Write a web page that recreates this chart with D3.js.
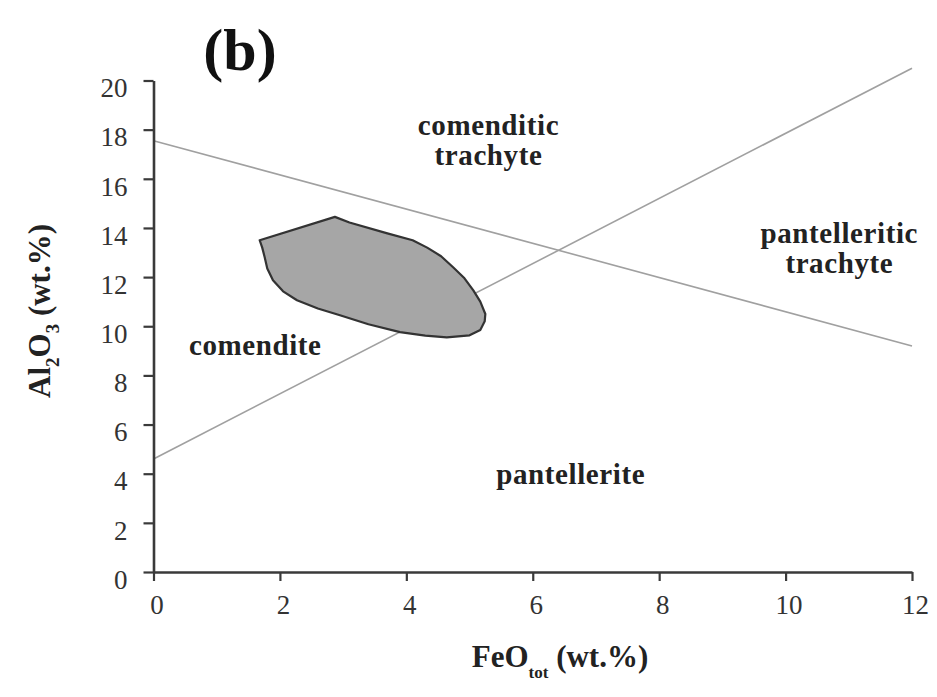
<!DOCTYPE html>
<html>
<head>
<meta charset="utf-8">
<script src="https://cdn.jsdelivr.net/npm/d3@7"></script>
<style>
  body { margin: 0; background: #fff; }
  text { font-family: "Liberation Serif", "Times New Roman", serif; }
</style>
</head>
<body>
<script>
// tick values
const xTicks = [0, 2, 4, 6, 8, 10, 12];
const yTicks = [0, 2, 4, 6, 8, 10, 12, 14, 16, 18, 20];

// classification boundaries (FeO, Al2O3)
const line1 = [[0, 17.55], [12, 9.2]];
const line2 = [[0, 4.6], [12, 20.5]];

// field of the samples (outline)
const field = [
  [1.68, 13.5], [2.87, 14.45], [3.1, 14.22], [3.7, 13.78], [4.1, 13.5],
  [4.33, 13.2], [4.55, 12.85], [4.74, 12.4], [4.92, 11.95], [5.06, 11.46],
  [5.17, 11.0], [5.25, 10.5], [5.24, 10.2], [5.17, 9.85], [5.0, 9.63],
  [4.64, 9.55], [4.3, 9.62], [3.9, 9.76], [3.4, 10.08], [2.95, 10.45],
  [2.6, 10.72], [2.27, 11.06], [2.05, 11.42], [1.89, 11.87], [1.8, 12.35],
  [1.76, 12.8], [1.72, 13.2]
];

// region names
const regions = [
  { lines: ["comenditic", "trachyte"], x: 5.3, y: 17.8 },
  { lines: ["pantelleritic", "trachyte"], x: 10.85, y: 13.4 },
  { lines: ["comendite"], x: 1.61, y: 8.85 },
  { lines: ["pantellerite"], x: 6.6, y: 3.6 }
];

const width = 937, height = 697;
const x = d3.scaleLinear().domain([0, 12]).range([153.5, 912]);
const y = d3.scaleLinear().domain([0, 20]).range([572, 80.5]);

const svg = d3.select("body").append("svg")
  .attr("width", width)
  .attr("height", height);

const axisColor = "#3a3a3a";

// boundary lines
const line = d3.line().x(d => x(d[0])).y(d => y(d[1]));
svg.selectAll(".bound")
  .data([line1, line2])
  .enter()
  .append("path")
  .attr("class", "bound")
  .attr("d", line)
  .attr("fill", "none")
  .attr("stroke", "#a0a0a0")
  .attr("stroke-width", 1.6);

// sample field
svg.append("path")
  .datum(field)
  .attr("d", d3.line().x(d => x(d[0])).y(d => y(d[1])).curve(d3.curveLinearClosed))
  .attr("fill", "#a6a6a6")
  .attr("stroke", "#333")
  .attr("stroke-width", 2.2)
  .attr("stroke-linejoin", "round");

// x axis
const gx = svg.append("g")
  .attr("transform", `translate(0, ${y(0)})`)
  .call(d3.axisBottom(x).tickValues(xTicks).tickSize(9).tickPadding(14).tickSizeOuter(0));
gx.select(".domain").attr("stroke", axisColor).attr("stroke-width", 2.6);
gx.selectAll(".tick line").attr("stroke", axisColor).attr("stroke-width", 2.2);
gx.selectAll(".tick text")
  .attr("fill", "#333")
  .attr("dx", 3)
  .style("font-size", "27px")
  .style("font-family", "Liberation Serif, serif");

// y axis
const gy = svg.append("g")
  .attr("transform", `translate(${x(0)}, 0)`)
  .call(d3.axisLeft(y).tickValues(yTicks).tickSize(10).tickPadding(16).tickSizeOuter(0));
gy.select(".domain").attr("stroke", axisColor).attr("stroke-width", 2.6);
gy.selectAll(".tick line").attr("stroke", axisColor).attr("stroke-width", 2.2);
gy.selectAll(".tick text")
  .attr("fill", "#333")
  .attr("dy", "0.6em")
  .style("font-size", "27px")
  .style("font-family", "Liberation Serif, serif");

// region labels
regions.forEach(r => {
  const t = svg.append("text")
    .attr("text-anchor", "middle")
    .attr("fill", "#222")
    .style("font-weight", "bold")
    .style("font-size", "29px")
    .style("letter-spacing", "0.6px");
  r.lines.forEach((s, i) => {
    t.append("tspan")
      .attr("x", x(r.x))
      .attr("y", y(r.y) + i * 30)
      .text(s);
  });
});

// panel letter
svg.append("text")
  .attr("x", 240)
  .attr("y", 70)
  .attr("text-anchor", "middle")
  .attr("fill", "#111")
  .style("font-weight", "bold")
  .style("font-size", "60px")
  .text("(b)");

// x axis title
const xt = svg.append("text")
  .attr("x", 560)
  .attr("y", 667)
  .attr("text-anchor", "middle")
  .attr("fill", "#222")
  .style("font-weight", "bold")
  .style("font-size", "31px");
xt.append("tspan").text("FeO");
xt.append("tspan").attr("dy", 11).style("font-size", "17px").text("tot");
xt.append("tspan").attr("dy", -11).text(" (wt.%)");

// y axis title
const yt = svg.append("text")
  .attr("transform", `translate(50, 311) rotate(-90)`)
  .attr("text-anchor", "middle")
  .attr("fill", "#222")
  .style("font-weight", "bold")
  .style("font-size", "31px");
yt.append("tspan").text("Al");
yt.append("tspan").attr("dy", 9).style("font-size", "19px").text("2");
yt.append("tspan").attr("dy", -9).text("O");
yt.append("tspan").attr("dy", 9).style("font-size", "19px").text("3");
yt.append("tspan").attr("dy", -9).text(" (wt.%)");
</script>
</body>
</html>
